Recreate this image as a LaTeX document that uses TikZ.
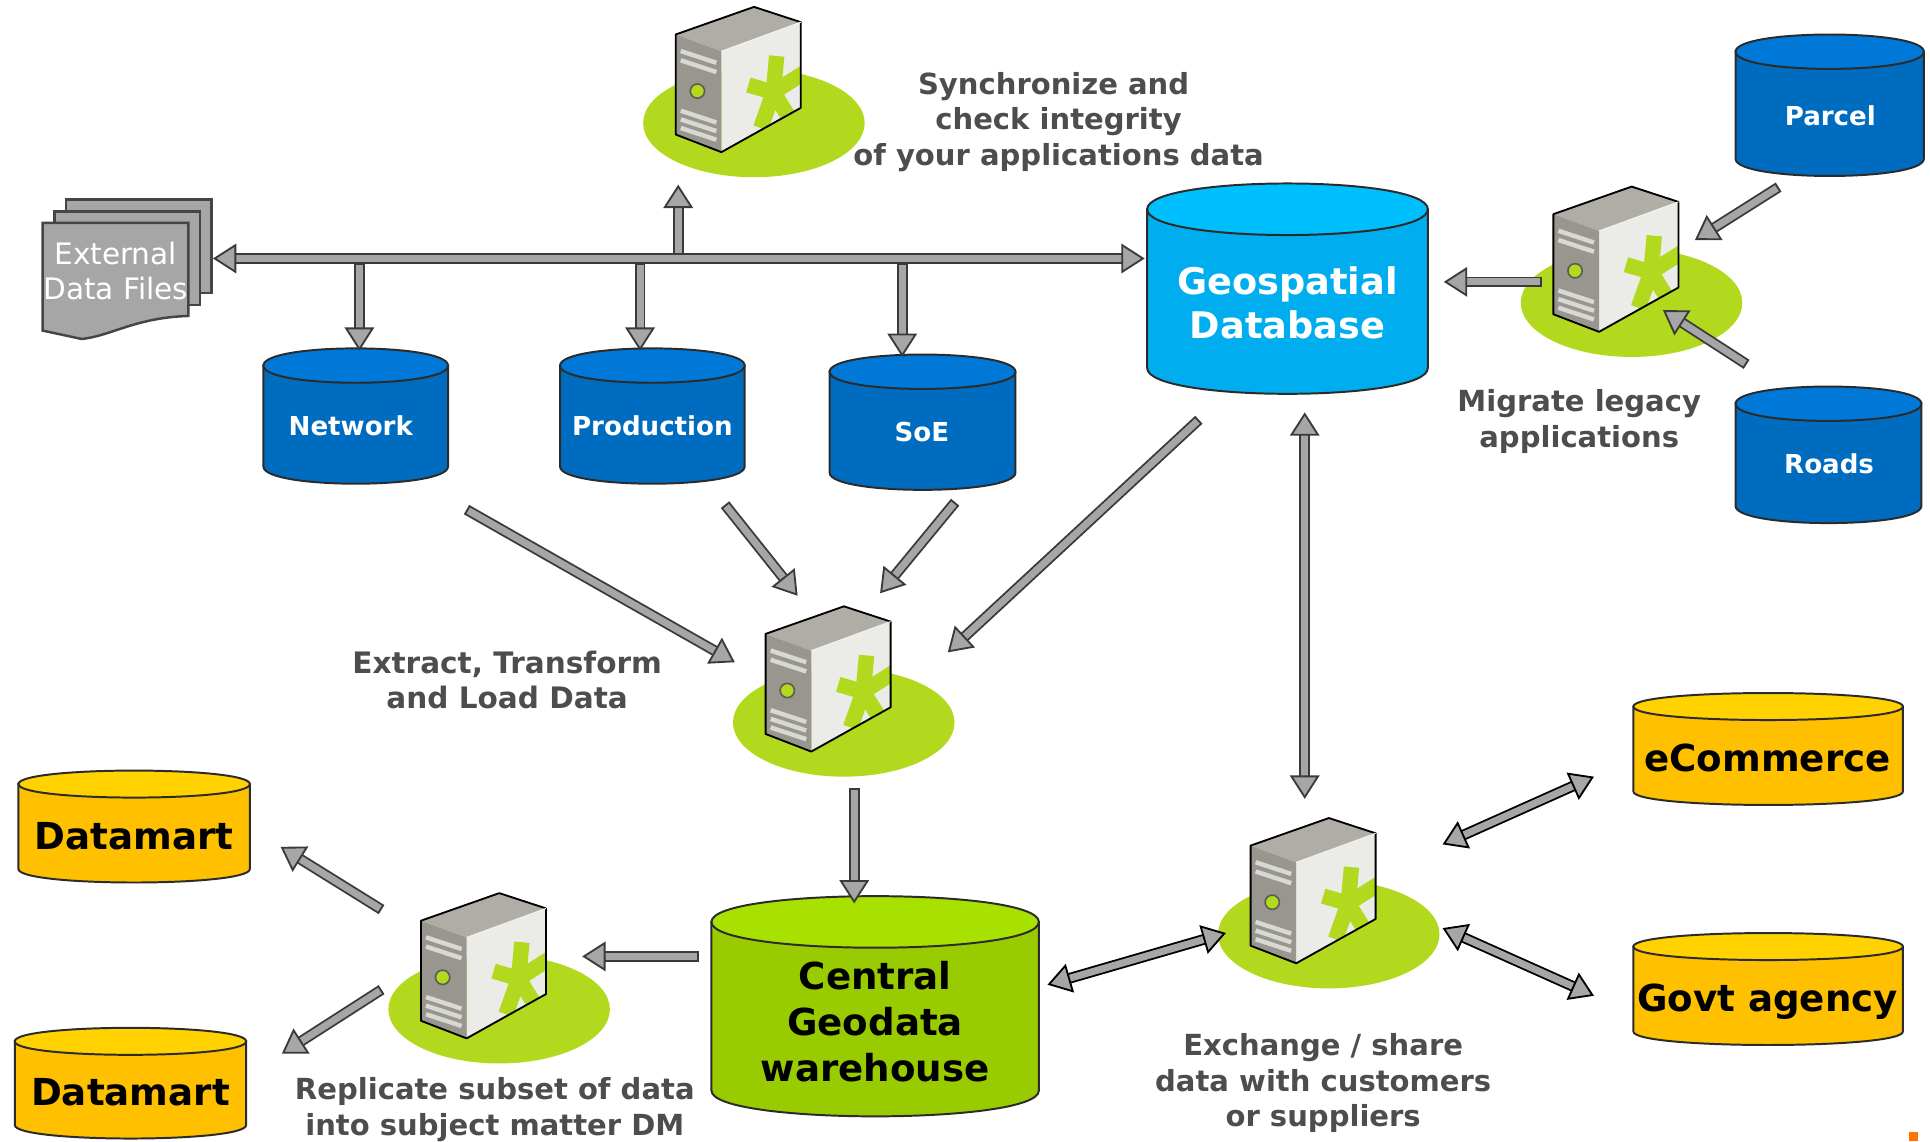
\documentclass[tikz,border=0pt]{standalone}
\usepackage{fontspec}
\setmainfont{DejaVu Sans}
\usetikzlibrary{arrows.meta,calc}
\definecolor{outl}{HTML}{2B2B2B}
\definecolor{arrowgray}{HTML}{A6A6A6}
\definecolor{arrowedge}{HTML}{3A3A3A}
\definecolor{docedge}{HTML}{454545}
\definecolor{txtgray}{HTML}{4D4D4D}
\definecolor{blueT}{HTML}{0078D7}
\definecolor{blueB}{HTML}{006CBF}
\definecolor{skyT}{HTML}{00BFFF}
\definecolor{skyB}{HTML}{00AEEF}
\definecolor{yelT}{HTML}{FFD200}
\definecolor{yelB}{HTML}{FFC000}
\definecolor{grnT}{HTML}{A8E000}
\definecolor{grnB}{HTML}{99CC00}
\definecolor{lime}{HTML}{B2D91E}
\definecolor{srvTop}{HTML}{B0ADA6}
\definecolor{srvLeft}{HTML}{98968F}
\definecolor{srvRight}{HTML}{EBEBE8}
\definecolor{srvVent}{HTML}{D8D8D4}
\tikzset{
 x=1pt,y=-1pt,
 headtip/.tip={Triangle[length=19pt,width=24pt,fill=arrowgray,line width=1.5pt]},
 tailtip/.tip={Bar[width=8.7pt,line width=1.5pt]},
 flow/.style={draw=#1,line width=1.5pt,double=arrowgray,double distance=5.7pt,line join=miter},
 oneway/.style={flow=#1,{tailtip}-{headtip}},
 twoway/.style={flow=#1,{headtip}-{headtip}},
 caption/.style={font=\fontsize{23.6}{29}\selectfont\bfseries,text=txtgray,align=center,inner sep=0pt},
 dbwhite/.style={font=\fontsize{21.2}{26}\selectfont\bfseries,text=white,align=center,inner sep=0pt},
 dbbig/.style={font=\fontsize{29.8}{36}\selectfont\bfseries,text=white,align=center,inner sep=0pt},
 dbblack/.style={font=\fontsize{30.2}{37}\selectfont\bfseries,text=black,align=center,inner sep=0pt},
 docsheet/.style={draw=docedge,fill=arrowgray,line width=2pt,line join=miter},
 docfont/.style={font=\fontsize{24}{28}\selectfont,text=white,align=center,inner sep=0pt},
}
% left x, right x, y of top rim centre, y of bottom rim centre, rim radius, top colour, body colour
\newcommand\dbcyl[7]{%
 \path[fill=#7,draw=outl,line width=1.6pt] (#1,#3) -- (#1,#4) .. controls (#1,#4+1.33*#5) and (#2,#4+1.33*#5) .. (#2,#4) -- (#2,#3) -- cycle;
 \path[fill=#6,draw=outl,line width=1.6pt] (#1,#3) .. controls (#1,#3+1.33*#5) and (#2,#3+1.33*#5) .. (#2,#3) .. controls (#2,#3-1.33*#5) and (#1,#3-1.33*#5) .. (#1,#3) -- cycle;
}
\newcommand\srv[2]{%
 \begin{scope}[shift={(#1,#2)}]
 \fill[lime] (63.5,72) ellipse [x radius=90,y radius=44];
 \fill[srvRight] (37.1,13.6) -- (101.6,-10) -- (101.6,59.6) -- (37.1,95.6) -- cycle;
 \begin{scope}
  \clip (37.1,13.6) -- (101.6,-10) -- (101.6,59.6) -- (37.1,95.6) -- cycle;
  \fill[lime] (79.3,47) circle [radius=9];
  \draw[lime,line width=12.5pt] (79.3,47) -- (82,17.5) (79.3,47) -- (106,30) (79.3,47) -- (95,72) (79.3,47) -- (69,76) (79.3,47) -- (59,41);
 \end{scope}
 \fill[srvTop] (0,0) -- (63.6,-22.4) -- (101.6,-10) -- (37.1,13.6) -- cycle;
 \fill[srvLeft] (0,0) -- (37.1,13.6) -- (37.1,95.6) -- (0,81.3) -- cycle;
 \draw[srvVent,line width=3.6pt]
   (4.1,13.5) -- (33,23) (4.1,21) -- (33,30.5)
   (4.1,62) -- (33,71.5) (4.1,69) -- (33,78.5) (4.1,76) -- (33,85.5);
 \draw[fill=lime,draw=srvLeft!60!black,line width=1.3pt] (17.6,46) circle [radius=5.8];
 \draw[black,line width=1.5pt,line join=round] (0,0) -- (63.6,-22.4) -- (101.6,-10) -- (101.6,59.6) -- (37.1,95.6) -- (0,81.3) -- cycle;
 \draw[srvRight!60!white,line width=.8pt] (37.1,13.6) -- (101.6,-10);
 \end{scope}}
\begin{document}
\begin{tikzpicture}
\useasboundingbox (0,0) rectangle (1568,927);
% ---- servers
\srv{549}{28}
\srv{1262}{174}
\srv{622}{515}
\srv{1016}{687}
\srv{342}{748}
% ---- external files
\draw[docsheet] (53.6,162) rectangle (172,238);
\draw[docsheet] (44.4,171.7) rectangle (162.5,247.8);
\draw[docsheet] (34.7,181) -- (153,181) -- (153,256.7) .. controls (110,258) and (90,273) .. (66.4,275.4) -- (34.7,268.6) -- cycle;
\node[docfont] (files) at (94,220) {External\\Data Files};
% ---- databases
\dbcyl{1410}{1563}{42}{129}{14}{blueT}{blueB}
\dbcyl{1410}{1561}{328}{411}{14}{blueT}{blueB}
\dbcyl{932}{1160}{170}{299}{21}{skyT}{skyB}
\dbcyl{214}{364}{297}{379}{14}{blueT}{blueB}
\dbcyl{455}{605}{297}{379}{14}{blueT}{blueB}
\dbcyl{674}{825}{302}{384}{14}{blueT}{blueB}
\dbcyl{15}{203}{637}{706}{11}{yelT}{yelB}
\dbcyl{12}{200}{846}{914}{11}{yelT}{yelB}
\dbcyl{1327}{1546}{574}{643}{11}{yelT}{yelB}
\dbcyl{1327}{1546}{769}{838}{11}{yelT}{yelB}
\dbcyl{578}{844}{749}{886}{21}{grnT}{grnB}
\node[dbwhite] (parcel) at (1487,94) {Parcel};
\node[dbwhite] (roads) at (1486,377) {Roads};
\node[dbbig] (geo) at (1046,246) {Geospatial\\Database};
\node[dbwhite] (network) at (285,346) {Network};
\node[dbwhite] (production) at (530,346) {Production};
\node[dbwhite] (soe) at (749,351) {SoE};
\node[dbblack] (dm1) at (109,679) {Datamart};
\node[dbblack] (dm2) at (106,887) {Datamart};
\node[dbblack] (ecom) at (1436,616) {eCommerce};
\node[dbblack] (govt) at (1436,814) {Govt agency};
\node[dbblack] (central) at (711,830) {Central\\Geodata\\warehouse};
% ---- captions
\node[caption] (sync) at (860,99) {Synchronize and\hspace*{8pt}\\check integrity\hspace*{8pt}\\of your applications data};
\node[caption] (mig) at (1283,342.5) {Migrate legacy\\applications};
\node[caption,font=\fontsize{24}{29}\selectfont\bfseries] (etl) at (412,552.5) {Extract, Transform\\and Load Data};
\node[caption] (xch) at (1075,880) {Exchange / share\\data with customers\\or suppliers};
\node[caption] (rep) at (402,901.5) {Replicate subset of data\\into subject matter DM};
% ---- connector ends
\coordinate (busL) at (173,210); \coordinate (busR) at (930,210);
\coordinate (upA) at (551,207); \coordinate (upB) at (551,150);
\coordinate (d1A) at (292,214); \coordinate (d1B) at (292,285);
\coordinate (d2A) at (520,214); \coordinate (d2B) at (520,285);
\coordinate (d3A) at (733,214); \coordinate (d3B) at (733,290);
\coordinate (m1A) at (1253,229); \coordinate (m1B) at (1173,229);
\coordinate (m2A) at (1445,152); \coordinate (m2B) at (1377,195);
\coordinate (m3A) at (1419,296); \coordinate (m3B) at (1351,252);
\coordinate (e1A) at (379,414); \coordinate (e1B) at (597,538);
\coordinate (e2A) at (589,410); \coordinate (e2B) at (648,484);
\coordinate (e3A) at (776,408); \coordinate (e3B) at (715,482);
\coordinate (e4A) at (974,341); \coordinate (e4B) at (770,530);
\coordinate (gxA) at (1060,335); \coordinate (gxB) at (1060,649);
\coordinate (lwA) at (694,640); \coordinate (lwB) at (694,734);
\coordinate (wrA) at (568,777); \coordinate (wrB) at (473,777);
\coordinate (r1A) at (310,739); \coordinate (r1B) at (228,688);
\coordinate (r2A) at (310,804); \coordinate (r2B) at (229,856);
\coordinate (x1A) at (851,800); \coordinate (x1B) at (996,758);
\coordinate (x2A) at (1172,686); \coordinate (x2B) at (1295,631);
\coordinate (x3A) at (1172,754); \coordinate (x3B) at (1295,809);
% ---- connectors
\draw[oneway=arrowedge] (upA) -- (upB);
\draw[oneway=arrowedge] (d1A) -- (d1B);
\draw[oneway=arrowedge] (d2A) -- (d2B);
\draw[oneway=arrowedge] (d3A) -- (d3B);
\draw[twoway=arrowedge] (busL) -- (busR);
\draw[oneway=arrowedge] (m1A) -- (m1B);
\draw[oneway=arrowedge] (m2A) -- (m2B);
\draw[oneway=arrowedge] (m3A) -- (m3B);
\draw[oneway=arrowedge] (e1A) -- (e1B);
\draw[oneway=arrowedge] (e2A) -- (e2B);
\draw[oneway=arrowedge] (e3A) -- (e3B);
\draw[oneway=arrowedge] (e4A) -- (e4B);
\draw[twoway=arrowedge] (gxA) -- (gxB);
\draw[oneway=arrowedge] (lwA) -- (lwB);
\draw[oneway=arrowedge] (wrA) -- (wrB);
\draw[oneway=arrowedge] (r1A) -- (r1B);
\draw[oneway=arrowedge] (r2A) -- (r2B);
\draw[twoway=black] (x1A) -- (x1B);
\draw[twoway=black] (x2A) -- (x2B);
\draw[twoway=black] (x3A) -- (x3B);
% ---- corner mark
\fill[orange!90!red] (1551,920) rectangle (1558,927);
\end{tikzpicture}
\end{document}
